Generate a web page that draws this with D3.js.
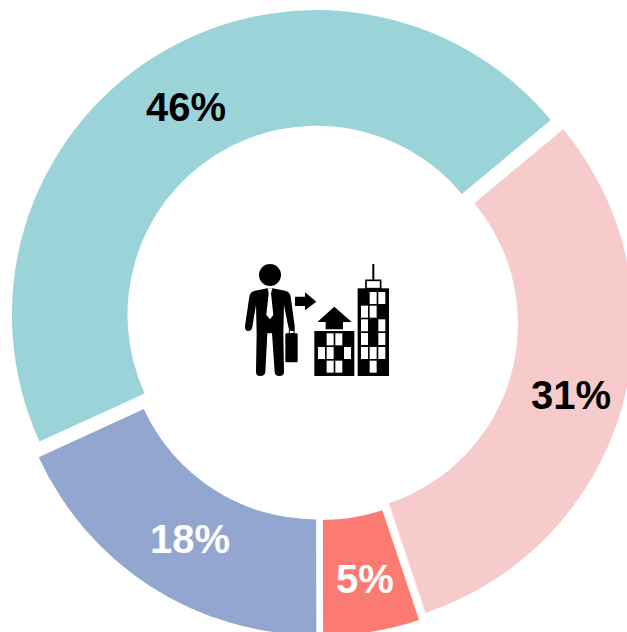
<!DOCTYPE html>
<html><head><meta charset="utf-8"><style>html,body{margin:0;padding:0;background:#fff;overflow:hidden}svg{display:block}</style>
<script src="https://cdn.jsdelivr.net/npm/d3@7/dist/d3.min.js"></script></head><body><svg id="c" width="627" height="632"></svg>
<script>
const labels=["46%","31%","5%","18%"];
const values=[45.8,30.9,5.1,18.2];
const colors=["#9BD4D8","#F7CBCC","#FB7B72","#93A6D0"];
const textColors=["#000","#000","#fff","#fff"];
const svg=d3.select("#c");
const ro=304.6,ri=189;
// each slice is pulled out of the ring a little, so each has its own centre
const centers=[[316.5,314.7],[329,324],[322.5,331],[315.7,330.4]];
const start=-114.6*Math.PI/180;
const pie=d3.pie().sort(null).value(d=>d).startAngle(start).endAngle(start+2*Math.PI);
const arc=d3.arc().innerRadius(ri).outerRadius(ro);
svg.append("g").selectAll("path").data(pie(values)).join("path")
 .attr("transform",(d,i)=>`translate(${centers[i]})`).attr("d",arc).attr("fill",(d,i)=>colors[i]);
const labelPos=[[186,107],[571,395],[365,579],[190,539]];
svg.append("g").selectAll("text").data(labels).join("text").attr("x",(d,i)=>labelPos[i][0]).attr("y",(d,i)=>labelPos[i][1])
 .attr("text-anchor","middle").attr("dominant-baseline","central").attr("font-family","Liberation Sans, Arial, sans-serif")
 .attr("font-weight","700").attr("font-size",40).attr("fill",(d,i)=>textColors[i]).text(d=>d);

// centre pictogram
const icon=svg.append("g").attr("transform","translate(230,250) scale(0.3333)");
icon.append("circle").attr("cx",120).attr("cy",75).attr("r",33);
icon.append("path").attr("d","M112 115 L75 122 Q60 125 58 140 L45 228 Q44 243 55 243 Q65 243 67 230 L78 165 L80 250 L78 365 Q78 378 90 378 Q105 378 106 365 L112 250 L126 250 L134 365 Q135 378 148 378 Q162 378 162 365 L160 250 L162 165 L175 230 Q178 243 187 243 Q196 243 194 228 L182 140 Q180 125 165 122 L128 115 Z");
icon.append("path").attr("fill","#fff").attr("d","M113 115 L127 115 L123 130 L130 195 L120 208 L109 195 L116 130 Z");
icon.append("rect").attr("x",166).attr("y",250).attr("width",37).attr("height",87).attr("rx",4);
icon.append("rect").attr("x",178).attr("y",240).attr("width",14).attr("height",12).attr("fill","none").attr("stroke","#000").attr("stroke-width",3);
icon.append("path").attr("d","M195 140 L225 140 L225 127 L259 155 L225 181 L225 168 L195 168 Z");
icon.append("path").attr("d","M262 216 L313 170 L365 216 L339 216 L339 238 L287 238 L287 216 Z");
icon.append("rect").attr("x",253).attr("y",243).attr("width",120).attr("height",135);
icon.append("rect").attr("x",383).attr("y",115).attr("width",94).attr("height",263);
icon.append("rect").attr("x",427).attr("y",42).attr("width",6).attr("height",50);
icon.append("rect").attr("x",408).attr("y",91).attr("width",44).attr("height",25).attr("fill","#fff").attr("stroke","#000").attr("stroke-width",5);
const winL=[[290,250],[316,250],[264,291],[290,291],[342,291],[290,332],[316,332]];
const winR=[[419,126],[445,126],[393,167],[419,167],[393,208],[445,208],[393,249],[445,249],[393,291],[419,291],[445,291],[419,332]];
icon.append("g").attr("fill","#fff").selectAll("rect").data(winL.concat(winR)).join("rect")
 .attr("x",d=>d[0]).attr("y",d=>d[1]).attr("width",21).attr("height",36);
</script></body></html>
